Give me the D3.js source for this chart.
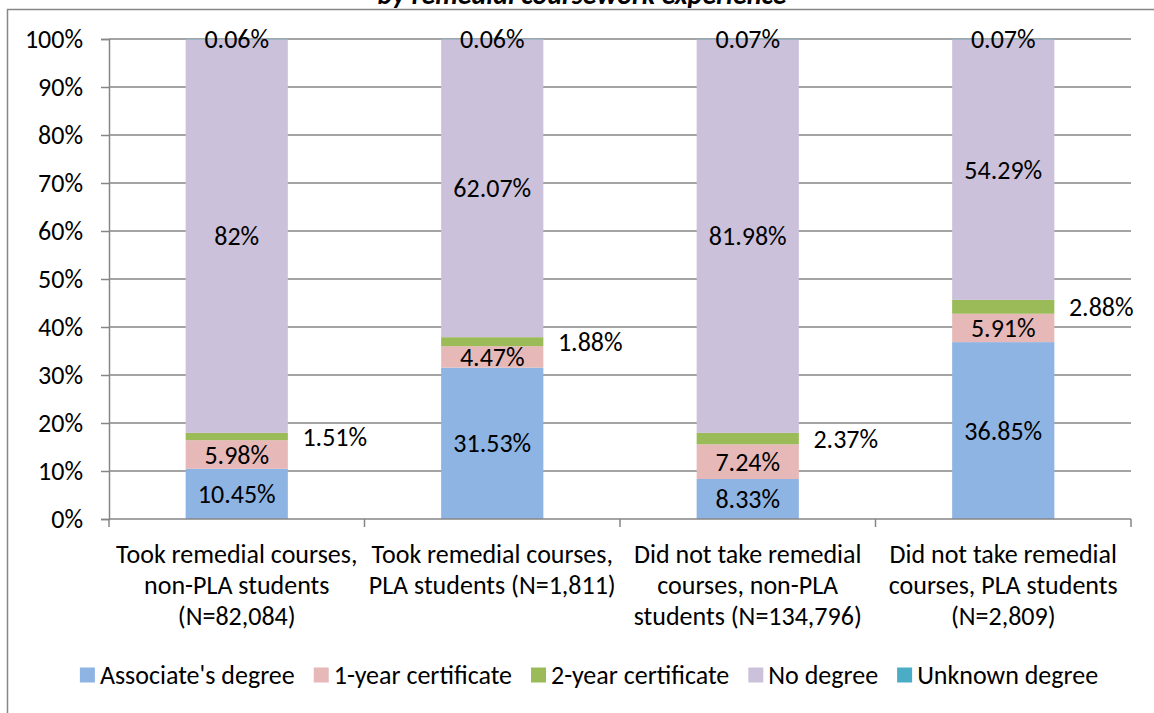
<!DOCTYPE html>
<html>
<head>
<meta charset="utf-8">
<script src="https://cdn.jsdelivr.net/npm/d3@7/dist/d3.min.js"></script>
<style>
  body { margin: 0; background: #fff; }
  svg { display: block; }
  text { font-family: Carlito, Lato, "Liberation Sans", sans-serif; fill: #000; }
</style>
</head>
<body>
<svg id="chart" width="1154" height="713"></svg>
<script>
// ---- data ----
const categories = [
  ["Took remedial courses,", "non-PLA students", "(N=82,084)"],
  ["Took remedial courses,", "PLA students (N=1,811)"],
  ["Did not take remedial", "courses, non-PLA", "students (N=134,796)"],
  ["Did not take remedial", "courses, PLA students", "(N=2,809)"]
];
const seriesNames = ["Associate's degree", "1-year certificate", "2-year certificate", "No degree", "Unknown degree"];
const associate = [10.45, 31.53, 8.33, 36.85];
const oneYear   = [5.98, 4.47, 7.24, 5.91];
const twoYear   = [1.51, 1.88, 2.37, 2.88];
const noDegree  = [82, 62.07, 81.98, 54.29];
const unknown   = [0.06, 0.06, 0.07, 0.07];
const labelText = [
  ["10.45%", "31.53%", "8.33%", "36.85%"],
  ["5.98%", "4.47%", "7.24%", "5.91%"],
  ["1.51%", "1.88%", "2.37%", "2.88%"],
  ["82%", "62.07%", "81.98%", "54.29%"],
  ["0.06%", "0.06%", "0.07%", "0.07%"]
];
const yTicks = [0, 10, 20, 30, 40, 50, 60, 70, 80, 90, 100];
const colors = ["#8EB4E3", "#E6B9B8", "#9BBB59", "#CCC1DA", "#4BACC6"];
const titleText = "by remedial coursework experience";

// ---- layout ----
const svg = d3.select("#chart");
const FS = 26;
const pLeft = 109, pRight = 1131, pTop = 39, pBottom = 519;
const gridColor = "#868686";

// outer chart border (partially outside view)
svg.append("rect").attr("x", 7.5).attr("y", 9.5).attr("width", 1200).attr("height", 800)
  .attr("fill", "none").attr("stroke", gridColor).attr("stroke-width", 1.5);

// title (clipped at the top edge, as in the reference)
svg.append("text").attr("x", 582).attr("y", 4).attr("text-anchor", "middle")
  .style("font-size", "28px").style("font-weight", "bold").style("font-style", "italic")
  .text(titleText);

const x = d3.scaleBand().domain(d3.range(categories.length)).range([pLeft, pRight]).paddingInner(0.6).paddingOuter(0.3);
const xOuter = d3.scaleBand().domain(d3.range(categories.length)).range([pLeft, pRight]);
const y = d3.scaleLinear().domain([0, 100]).range([pBottom, pTop]);

// gridlines
svg.append("g").selectAll("line").data(yTicks.filter(d => d > 0)).join("line")
  .attr("x1", pLeft).attr("x2", pRight)
  .attr("y1", d => y(d)).attr("y2", d => y(d))
  .attr("stroke", gridColor).attr("stroke-width", 1.5);

// y axis
const yAxis = svg.append("g").attr("transform", `translate(${pLeft},0)`)
  .call(d3.axisLeft(y).tickValues(yTicks).tickFormat(d => d + "%").tickSize(8).tickPadding(18));
yAxis.select(".domain").attr("stroke", gridColor).attr("stroke-width", 1.5);
yAxis.selectAll(".tick line").attr("stroke", gridColor).attr("stroke-width", 1.5);
yAxis.selectAll(".tick text").style("font-size", FS + "px").style("font-family", "Carlito, Lato, sans-serif").attr("fill", "#000");

// stacked data
const seriesArrays = [associate, oneYear, twoYear, noDegree, unknown];
const rows = categories.map((c, i) => {
  const o = { i };
  seriesNames.forEach((s, k) => o[s] = seriesArrays[k][i]);
  return o;
});
const stacked = d3.stack().keys(seriesNames)(rows);

const gBars = svg.append("g");
stacked.forEach((layer, k) => {
  gBars.append("g").selectAll("rect").data(layer).join("rect")
    .attr("x", d => x(d.data.i))
    .attr("width", x.bandwidth())
    .attr("y", d => y(d[1]))
    .attr("height", d => y(d[0]) - y(d[1]))
    .attr("fill", colors[k]);
});

// x axis
svg.append("line").attr("x1", pLeft).attr("x2", pRight).attr("y1", pBottom).attr("y2", pBottom)
  .attr("stroke", gridColor).attr("stroke-width", 1.5);
const bounds = d3.range(categories.length + 1).map(i => i < categories.length ? xOuter(i) : pRight);
svg.append("g").selectAll("line").data(bounds).join("line")
  .attr("x1", d => d).attr("x2", d => d).attr("y1", pBottom).attr("y2", pBottom + 8)
  .attr("stroke", gridColor).attr("stroke-width", 1.5);

// category labels
categories.forEach((lines, i) => {
  const cx = xOuter(i) + xOuter.bandwidth() / 2;
  const t = svg.append("text").attr("text-anchor", "middle").style("font-size", FS + "px");
  lines.forEach((ln, j) => {
    t.append("tspan").attr("x", cx).attr("y", 554 + j * 31).attr("dy", "0.35em").text(ln);
  });
});

// data labels
stacked.forEach((layer, k) => {
  layer.forEach((d, i) => {
    const cx = x(i) + x.bandwidth() / 2;
    const cy = (y(d[0]) + y(d[1])) / 2;
    const lx = k === 2 ? cx + 98 : cx;
    svg.append("text").attr("x", lx).attr("y", cy).attr("dy", "0.35em")
      .attr("text-anchor", "middle").style("font-size", FS + "px")
      .text(labelText[k][i]);
  });
});

// legend
const leg = svg.append("g");
const legGap = 19;
let lxPos = 0;
seriesNames.forEach((s, k) => {
  const g = leg.append("g");
  g.append("rect").attr("x", 0).attr("y", -7.5).attr("width", 15).attr("height", 15).attr("fill", colors[k]);
  const t = g.append("text").attr("x", 20).attr("y", 0).attr("dy", "0.35em").style("font-size", FS + "px").text(s);
  const w = 20 + t.node().getComputedTextLength();
  g.attr("transform", `translate(${lxPos},0)`);
  lxPos += w + legGap;
});
const totalW = lxPos - legGap;
leg.attr("transform", `translate(${(78 + 1100) / 2 - totalW / 2},675)`);
</script>
</body>
</html>
